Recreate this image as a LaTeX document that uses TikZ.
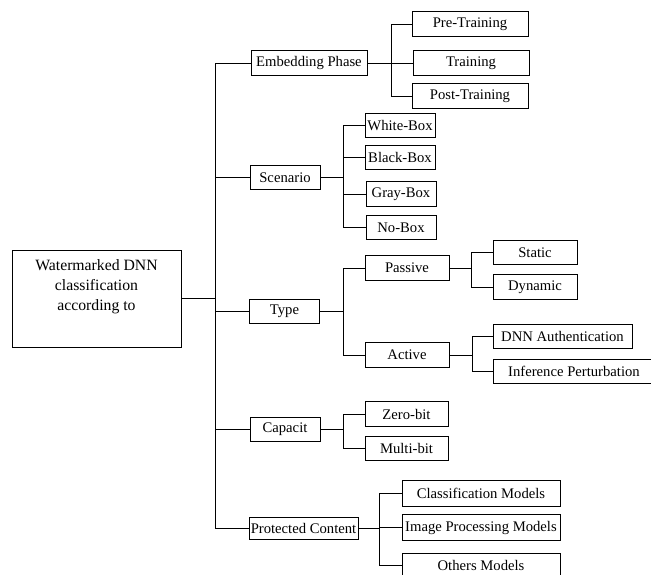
\documentclass[tikz,border=0pt]{standalone}
\usepackage{fontspec}
\setmainfont{Liberation Serif}
\begin{document}
\begin{tikzpicture}[x=0.75pt,y=-0.75pt]

	\tikzstyle{edge} = [draw,-,line width=0.6pt]
	\clip (0,0) rectangle (651,575);

	\tikzset{vertex/.style = {shape=rectangle,draw,line width=0.6pt,inner sep=1pt,minimum height=18.5pt,font=\fontsize{11}{15}\selectfont}}
	\node[vertex,minimum width=126.75pt,minimum height=72.75pt,align=center,font=\fontsize{11.8}{15}\selectfont] (root) at (96.5,298.5) {Watermarked DNN\\classification\\according to\\\strut};

	% first level
	\node[vertex,minimum width=87pt] (emb) at (309,63) {Embedding Phase};
	\node[vertex,minimum width=52.5pt] (scen) at (285,177.5) {Scenario};
	\node[vertex,minimum width=52pt] (type) at (284.5,311.5) {Type};
	\node[vertex,minimum width=52.5pt] (cap) at (285,429.5) {Capacit};
	\node[vertex,minimum width=81.75pt,minimum height=16.5pt] (prot) at (303.5,528) {Protected Content};

	% second level
	\node[vertex,minimum width=87pt] (pre) at (470,24) {Pre-Training};
	\node[vertex,minimum width=87pt] (train) at (471,63) {Training};
	\node[vertex,minimum width=87pt] (post) at (470,96) {Post-Training};

	\node[vertex,minimum width=52.5pt] (white) at (400,125.5) {White-Box};
	\node[vertex,minimum width=52.5pt] (black) at (400,157.5) {Black-Box};
	\node[vertex,minimum width=52.5pt] (gray) at (401,194) {Gray-Box};
	\node[vertex,minimum width=52.5pt] (nobox) at (401,227.5) {No-Box};

	\node[vertex,minimum width=63pt] (pas) at (407,268) {Passive};
	\node[vertex,minimum width=63pt] (act) at (407,355) {Active};

	\node[vertex,minimum width=62.25pt] (zero) at (406.5,414) {Zero-bit};
	\node[vertex,minimum width=62.25pt] (multi) at (406.5,448.5) {Multi-bit};

	\node[vertex,minimum width=118.5pt,minimum height=19.5pt] (cls) at (481,493) {Classification Models};
	\node[vertex,minimum width=118.5pt,minimum height=20pt] (img) at (481,527.5) {Image Processing Models};
	\node[vertex,minimum width=118.5pt] (oth) at (481,565.5) {Others Models};

	% third level
	\node[vertex,minimum width=63pt] (static) at (535,252.5) {Static};
	\node[vertex,minimum width=63pt] (dyn) at (535,287) {Dynamic};
	\node[vertex,minimum width=104.25pt] (dnn) at (562.5,336.5) {DNN Authentication};
	\node[vertex,minimum width=121.5pt] (inf) at (574,371.5) {Inference Perturbation};

	% branch points
	\coordinate (trunk) at (215,298.5);
	\coordinate (bemb) at (391,63);
	\coordinate (bscen) at (343,177.5);
	\coordinate (btype) at (343,311.5);
	\coordinate (bcap) at (343,429.5);
	\coordinate (bprot) at (379,528);
	\coordinate (bpas) at (471,268);
	\coordinate (bact) at (472,355);

	\draw[edge] (root) to (trunk);
	\draw[edge] (trunk) |- (emb);
	\draw[edge] (trunk) |- (scen);
	\draw[edge] (trunk) |- (type);
	\draw[edge] (trunk) |- (cap);
	\draw[edge] (trunk) |- (prot);

	\draw[edge] (emb) to (bemb);
	\draw[edge] (bemb) |- (pre);
	\draw[edge] (bemb) |- (train);
	\draw[edge] (bemb) |- (post);

	\draw[edge] (scen) to (bscen);
	\draw[edge] (bscen) |- (white);
	\draw[edge] (bscen) |- (black);
	\draw[edge] (bscen) |- (gray);
	\draw[edge] (bscen) |- (nobox);

	\draw[edge] (type) to (btype);
	\draw[edge] (btype) |- (pas);
	\draw[edge] (btype) |- (act);

	\draw[edge] (pas) to (bpas);
	\draw[edge] (bpas) |- (static);
	\draw[edge] (bpas) |- (dyn);

	\draw[edge] (act) to (bact);
	\draw[edge] (bact) |- (dnn);
	\draw[edge] (bact) |- (inf);

	\draw[edge] (cap) to (bcap);
	\draw[edge] (bcap) |- (zero);
	\draw[edge] (bcap) |- (multi);

	\draw[edge] (prot) to (bprot);
	\draw[edge] (bprot) |- (cls);
	\draw[edge] (bprot) |- (img);
	\draw[edge] (bprot) |- (oth);
\end{tikzpicture}
\end{document}
